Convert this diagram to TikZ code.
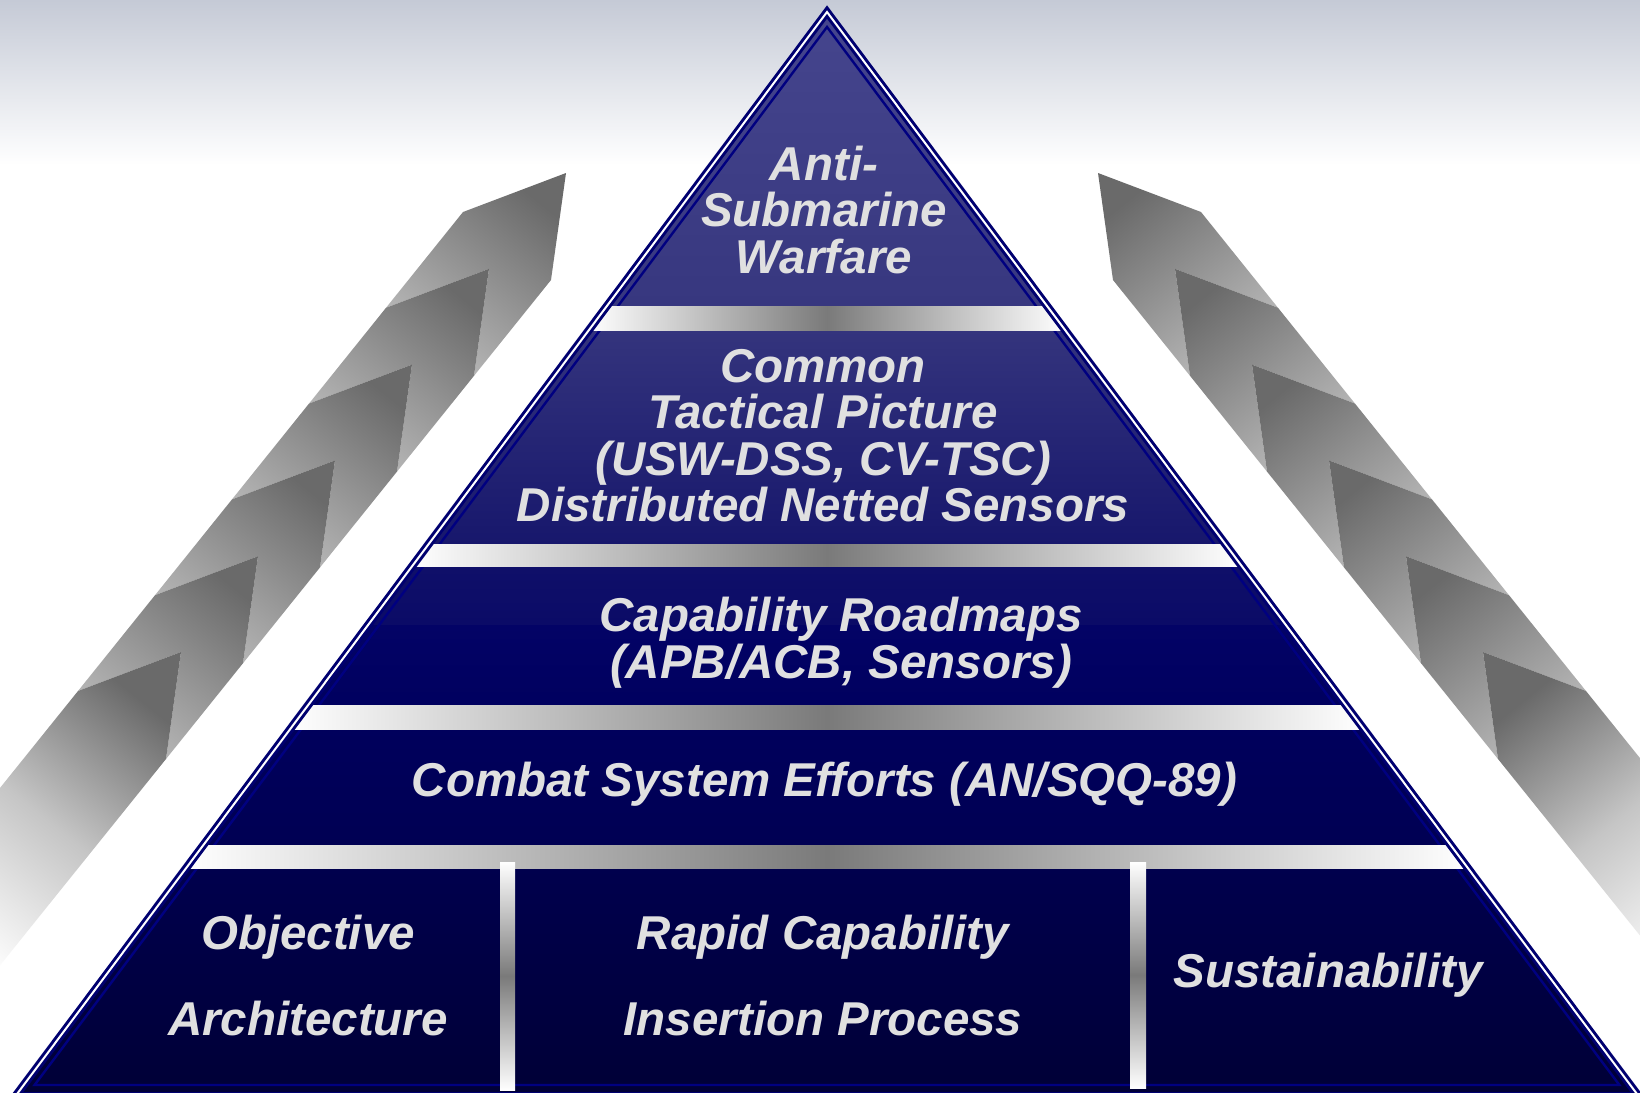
\documentclass[tikz,border=0pt]{standalone}
\usepackage{fontspec}
\setmainfont{Liberation Sans}
\usetikzlibrary{calc}
\definecolor{bgtop}{HTML}{C5CAD6}
\definecolor{navyline}{HTML}{000070}
\definecolor{innerline}{HTML}{000080}
\definecolor{textgray}{HTML}{E0E0E0}
\definecolor{sepgray}{HTML}{7A7A7A}
\definecolor{chevdark}{HTML}{6A6A6A}
\definecolor{chevlight}{HTML}{BBBBBB}
\tikzset{
  pyrtext/.style   ={text=textgray,align=center,inner sep=0pt,
                     font=\bfseries\itshape\fontsize{23.75}{23.2}\selectfont},
  basetext/.style  ={pyrtext,font=\bfseries\itshape\fontsize{23.75}{43}\selectfont},
  sepbar/.style    ={left color=white,right color=white,middle color=sepgray},
  postbar/.style   ={top color=white,bottom color=white,middle color=sepgray},
  chevron band/.style={top color=chevdark,bottom color=chevlight},
  chevron tail/.style={top color=chevdark,bottom color=white,middle color=chevlight!85!white},
  pyramid edge/.style={draw=navyline,line width=1.5pt,double=white,double distance=1pt,line join=miter},
  inner edge/.style={draw=innerline,line width=1.2pt,line join=miter},
}
% one gray chevron strip: #1 x origin, #2 x sign, #3 shading angle
\newcommand{\chevronstrip}[3]{%
  \foreach \i in {0,...,4}{%
    \pgfmathsetmacro{\dx}{-77*\i}%
    \pgfmathsetmacro{\dy}{95.8*\i}%
    \shade[chevron band,shading angle=#3]
      ({#1+#2*(463+\dx)},{212+\dy}) -- ({#1+#2*(566+\dx)},{173+\dy})
      -- ({#1+#2*(551+\dx)},{280+\dy}) -- ({#1+#2*(474+\dx)},{375.8+\dy})
      -- ({#1+#2*(489+\dx)},{268.8+\dy}) -- ({#1+#2*(386+\dx)},{307.8+\dy}) -- cycle;
  }%
  \shade[chevron tail,shading angle=#3]
    ({#1+#2*78},691) -- ({#1+#2*181},652) -- ({#1+#2*166},759)
    -- ({#1+#2*(-11)},979) -- ({#1+#2*(-99)},911) -- cycle;
}

\begin{document}
\begin{tikzpicture}[x=0.5pt,y=-0.5pt]
  \useasboundingbox (0,0) rectangle (1640,1093);
  \clip (0,0) rectangle (1640,1093);
  % background
  \fill[white] (0,0) rectangle (1640,1093);
  \shade[top color=bgtop,bottom color=white] (0,0) rectangle (1640,165);
  % side arrows
  \chevronstrip{0}{1}{-38.8}
  \chevronstrip{1664}{-1}{38.8}
  % pyramid
  \coordinate (apex) at (827,12);
  \coordinate (bl) at (15.5,1096);
  \coordinate (br) at (1638.5,1096);
  \begin{scope}
    \clip (apex) -- (bl) -- (br) -- cycle;
    \shade[top color={rgb,255:red,70;green,70;blue,142},bottom color={rgb,255:red,55;green,55;blue,127}] (0,0) rectangle (1640,306);
    \shade[top color={rgb,255:red,52;green,52;blue,125},bottom color={rgb,255:red,23;green,23;blue,108}] (0,330) rectangle (1640,544);
    \shade[top color={rgb,255:red,15;green,15;blue,105},bottom color={rgb,255:red,11;green,11;blue,103}] (0,566) rectangle (1640,625);
    \shade[top color={rgb,255:red,3;green,3;blue,102},bottom color={rgb,255:red,0;green,0;blue,95}] (0,625) rectangle (1640,705);
    \shade[top color={rgb,255:red,0;green,0;blue,92},bottom color={rgb,255:red,0;green,0;blue,83}] (0,729) rectangle (1640,845);
    \shade[top color={rgb,255:red,0;green,0;blue,77},bottom color={rgb,255:red,0;green,0;blue,54}] (0,868) rectangle (1640,1100);
    \draw[inner edge] (827,27) -- (34.6,1085) -- (1619.4,1085) -- cycle;
    % silver separators
    \foreach \ya/\yb in {306/330,544/566,705/729,845/868}{
      \pgfmathsetmacro{\hw}{0.749*(\yb-11)}
      \shade[sepbar] ({827-\hw},\ya) rectangle ({827+\hw},\yb);
    }
    \shade[postbar] (500,862) rectangle (515,1090);
    \shade[postbar] (1130,862) rectangle (1146,1088);
  \end{scope}
  \draw[pyramid edge] (apex) -- (bl) -- (br) -- cycle;
  % labels
  \node[pyrtext] (asw) at (824,210) {Anti-\\Submarine\\Warfare};
  \node[pyrtext] (ctp) at (823,435.5) {Common\\Tactical Picture\\(USW-DSS, CV-TSC)\\Distributed Netted Sensors};
  \node[pyrtext] (roadmap) at (841,642.6) {Capability Roadmaps\\(APB/ACB, Sensors)};
  \node[pyrtext] (combat) at (824.5,784.6) {Combat System Efforts (AN/SQQ-89)};
  \node[basetext] (objarch) at (308,975.5) {Objective\\Architecture};
  \node[basetext] (rapid) at (823,975.5) {Rapid Capability\\Insertion Process};
  \node[basetext] (sustain) at (1328,975.5) {Sustainability};
\end{tikzpicture}
\end{document}
